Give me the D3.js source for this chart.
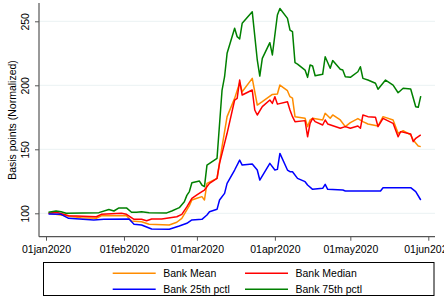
<!DOCTYPE html>
<html><head><meta charset="utf-8">
<script src="https://cdn.jsdelivr.net/npm/d3@7"></script>
<style>body{margin:0;background:#fff}svg{display:block}text{font-family:"Liberation Sans",Arial,sans-serif}</style>
</head><body><div id="chart"></div>
<script>
const meanDates=["2020-01-02","2020-01-09","2020-01-15","2020-01-21","2020-01-23","2020-02-02","2020-02-04","2020-02-08","2020-02-11","2020-02-19","2020-02-22","2020-02-24","2020-02-26","2020-02-27","2020-02-28","2020-03-01","2020-03-03","2020-03-04","2020-03-05","2020-03-09","2020-03-11","2020-03-13","2020-03-16","2020-03-18","2020-03-19","2020-03-23","2020-03-25","2020-03-27","2020-03-31","2020-04-02","2020-04-03","2020-04-06","2020-04-07","2020-04-08","2020-04-09","2020-04-13","2020-04-14","2020-04-15","2020-04-16","2020-04-20","2020-04-21","2020-04-23","2020-04-24","2020-04-27","2020-04-29","2020-05-01","2020-05-04","2020-05-06","2020-05-08","2020-05-12","2020-05-14","2020-05-18","2020-05-20","2020-05-22","2020-05-25","2020-05-26","2020-05-28","2020-05-29"];
const meanValues=[100,98.1,96.6,96.1,98.1,98.1,94,93.4,91.4,90.9,93,96.1,102.6,106,110.4,111.7,113,110.4,123.4,127.3,152,175.5,189.8,202,195,205.4,184.6,187.2,192.9,193.2,200.2,195.8,191.1,190,175.5,174.2,167.7,172.9,174.2,172.9,178.1,174.2,176.8,172.9,167.7,170.8,174,171.6,169.8,168.2,175.5,172.9,162.5,164.5,161.2,157.3,152.6,152.1];

const medianDates=["2020-01-02","2020-01-05","2020-01-08","2020-01-10","2020-01-13","2020-01-21","2020-01-23","2020-01-31","2020-02-02","2020-02-05","2020-02-08","2020-02-10","2020-02-12","2020-02-16","2020-02-22","2020-02-24","2020-02-26","2020-02-28","2020-03-01","2020-03-03","2020-03-04","2020-03-06","2020-03-09","2020-03-10","2020-03-13","2020-03-16","2020-03-17","2020-03-18","2020-03-19","2020-03-23","2020-03-24","2020-03-25","2020-03-27","2020-03-30","2020-03-31","2020-04-01","2020-04-02","2020-04-06","2020-04-07","2020-04-08","2020-04-09","2020-04-13","2020-04-14","2020-04-15","2020-04-16","2020-04-17","2020-04-20","2020-04-21","2020-04-22","2020-04-27","2020-04-29","2020-05-01","2020-05-04","2020-05-05","2020-05-06","2020-05-08","2020-05-11","2020-05-12","2020-05-14","2020-05-18","2020-05-20","2020-05-21","2020-05-25","2020-05-26","2020-05-27","2020-05-29"];
const medianValues=[100,100.8,99.2,98.1,97.9,97.3,99.2,100,99.2,95.3,95.3,94.2,95.5,95.5,97.3,99.2,105,111.7,114.3,116.9,118.2,123.4,127.3,139,162.5,188.5,189.8,204.1,192.4,196.3,180.7,176.8,183.3,188.5,185.9,191.1,185.3,187.2,180.7,175.5,171.6,172.4,159.8,170.3,174.2,171.6,169,172.9,169.8,166.4,167.7,166.4,168.2,166.4,176.8,175.5,175,167.7,174.2,170.3,159.8,163.8,162,156,158.6,161.2];

const p25Dates=["2020-01-02","2020-01-07","2020-01-10","2020-01-20","2020-01-24","2020-02-03","2020-02-05","2020-02-08","2020-02-12","2020-02-19","2020-02-23","2020-02-26","2020-02-28","2020-03-03","2020-03-05","2020-03-06","2020-03-09","2020-03-10","2020-03-12","2020-03-13","2020-03-16","2020-03-18","2020-03-19","2020-03-23","2020-03-25","2020-03-26","2020-03-30","2020-04-01","2020-04-02","2020-04-03","2020-04-06","2020-04-07","2020-04-08","2020-04-10","2020-04-13","2020-04-14","2020-04-16","2020-04-20","2020-04-21","2020-04-22","2020-04-28","2020-04-29","2020-05-13","2020-05-14","2020-05-25","2020-05-27","2020-05-29"];
const p25Values=[99.5,99.2,96.1,94.8,95.3,95.5,91.4,90.9,87.7,87.5,90.1,92.2,94.8,95.3,98.7,101.2,103.1,110.4,115.6,123.4,133.8,141.6,137.7,138.5,133.8,126,139,133.8,134.3,146.8,133.8,132.5,132.5,127.3,124.7,122.1,118.7,119.5,122.6,118.7,118.2,117.4,117.4,120,120,116.9,110.4];

const p75Dates=["2020-01-02","2020-01-05","2020-01-07","2020-01-09","2020-01-22","2020-01-26","2020-01-28","2020-01-30","2020-02-02","2020-02-04","2020-02-06","2020-02-08","2020-02-11","2020-02-18","2020-02-20","2020-02-23","2020-02-25","2020-02-26","2020-02-27","2020-02-28","2020-03-02","2020-03-03","2020-03-04","2020-03-05","2020-03-09","2020-03-11","2020-03-12","2020-03-13","2020-03-16","2020-03-17","2020-03-18","2020-03-19","2020-03-23","2020-03-25","2020-03-26","2020-03-27","2020-03-30","2020-03-31","2020-04-02","2020-04-03","2020-04-06","2020-04-07","2020-04-08","2020-04-09","2020-04-10","2020-04-13","2020-04-14","2020-04-15","2020-04-16","2020-04-17","2020-04-20","2020-04-21","2020-04-23","2020-04-24","2020-04-27","2020-04-28","2020-04-29","2020-05-01","2020-05-04","2020-05-05","2020-05-06","2020-05-08","2020-05-11","2020-05-12","2020-05-15","2020-05-18","2020-05-20","2020-05-22","2020-05-25","2020-05-27","2020-05-28","2020-05-29"];
const p75Values=[100.8,101.8,101.2,100,100.5,103,101.8,104.2,104.2,100.8,100.8,101.2,100.5,100.3,101.8,104.4,109,114,117,123.9,125.2,122.1,120.8,137.7,143,196.3,206.7,225,244.5,238,236.2,248.4,257.5,219.8,207.2,221,233.3,223.7,254.9,260,252.3,243.2,241.9,217.7,216.6,211.9,206.2,215.9,215.1,207.5,208.6,222.3,213.3,219.3,212.5,211.9,206.7,206.2,210.6,214.5,205.4,204.1,201.6,196.9,204.1,200.2,194.2,197.7,197.1,183.3,182.8,191.6];

const yTicks=[100,150,200,250];
const xTickDates=["2020-01-01","2020-02-01","2020-03-01","2020-04-01","2020-05-01","2020-06-01"];
const seriesNames=["Bank Mean","Bank Median","Bank 25th pctl","Bank 75th pctl"];
const seriesColors=["#ff8c00","#ff0000","#0000ff","#008000"];

(function(){
const W=444,H=296;
const parse=d3.utcParse("%Y-%m-%d");
const svg=d3.select("#chart").append("svg").attr("width",W).attr("height",H);
const pL=39,pR=435,pT=3,pB=236.7;
const x=d3.scaleUtc().domain([parse("2020-01-01"),parse("2020-06-01")]).range([46,428.3]);
const y=d3.scaleLinear().domain([100,250]).range([213.3,21.3]);

svg.append("g").selectAll("line").data(yTicks).join("line")
  .attr("x1",pL).attr("x2",pR).attr("y1",d=>y(d)).attr("y2",d=>y(d))
  .attr("stroke","#eaf2f3").attr("stroke-width",1);

const series=[[meanDates,meanValues],[medianDates,medianValues],[p25Dates,p25Values],[p75Dates,p75Values]];
const line=d3.line().x(d=>x(d[0])).y(d=>y(d[1]));
series.forEach((s,i)=>{
  const pts=s[0].map((d,j)=>[parse(d),s[1][j]]);
  svg.append("path").datum(pts).attr("d",line).attr("fill","none")
    .attr("stroke",seriesColors[i]).attr("stroke-width",1.5).attr("stroke-linejoin","round");
});

const yAxis=svg.append("g").attr("transform",`translate(${pL},0)`)
  .call(d3.axisLeft(y).tickValues(yTicks).tickSize(4).tickPadding(6));
yAxis.select(".domain").remove();
yAxis.selectAll(".tick line").attr("stroke","#555");
yAxis.selectAll(".tick text").attr("font-size",10.5).attr("fill","#000")
  .attr("transform","rotate(-90)").attr("x",0).attr("y",-10).attr("dy","0").attr("text-anchor","middle");
svg.append("line").attr("x1",pL).attr("x2",pL).attr("y1",pT).attr("y2",pB).attr("stroke","#555").attr("stroke-width",1.2);

const xAxis=svg.append("g").attr("transform",`translate(0,${pB})`)
  .call(d3.axisBottom(x).tickValues(xTickDates.map(parse)).tickSize(4).tickPadding(5)
  .tickFormat(d=>d3.utcFormat("%d%b%Y")(d).toLowerCase()));
xAxis.select(".domain").remove();
xAxis.selectAll(".tick line").attr("stroke","#555");
xAxis.selectAll(".tick text").attr("font-size",10.5).attr("fill","#000");
svg.append("line").attr("x1",pL).attr("x2",pR).attr("y1",pB).attr("y2",pB).attr("stroke","#555").attr("stroke-width",1.2);

svg.append("text").attr("transform","translate(16,120) rotate(-90)").attr("text-anchor","middle")
  .attr("font-size",10.5).text("Basis points (Normalized)");

svg.append("rect").attr("x",43.5).attr("y",262.5).attr("width",390.5).attr("height",33).attr("fill","none").attr("stroke","#000").attr("stroke-width",1);
const lx=[112.7,245],ly=[273.3,289.3];
seriesNames.forEach((n,i)=>{
  const cx=lx[i%2],cy=ly[Math.floor(i/2)];
  svg.append("line").attr("x1",cx).attr("x2",cx+43).attr("y1",cy).attr("y2",cy).attr("stroke",seriesColors[i]).attr("stroke-width",1.5);
  svg.append("text").attr("x",cx+50.5).attr("y",cy+3.7).attr("font-size",10.5).text(n);
});
})();
</script></body></html>
